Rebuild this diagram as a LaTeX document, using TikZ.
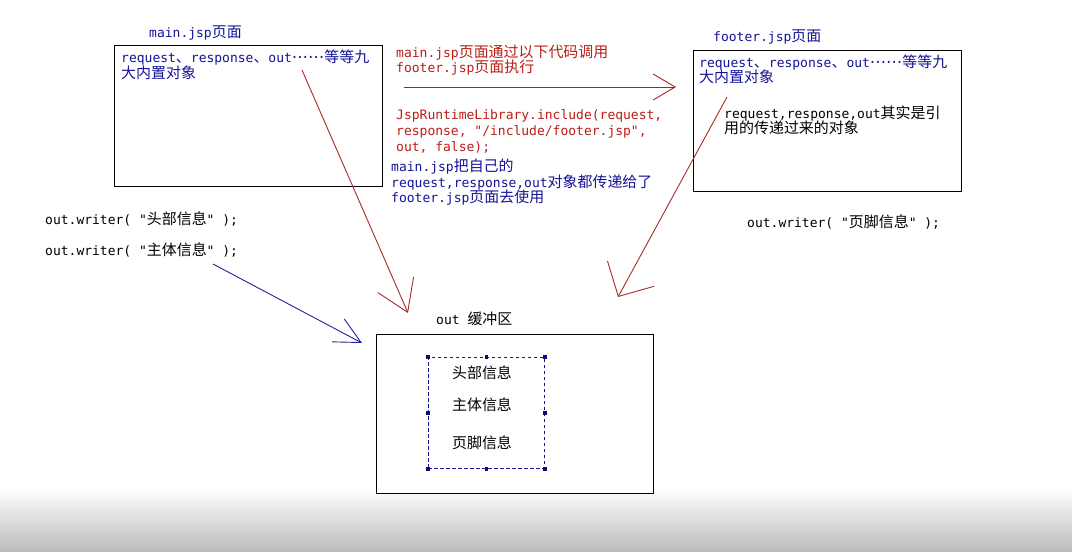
\documentclass[tikz,border=0pt]{standalone}
\usepackage{fontspec}
\newfontfamily\asc{DejaVu Sans Mono}
\newfontfamily\djv[Scale=1.25]{DejaVu Sans}
\newfontfamily\cjk[Scale=1.15]{Noto Sans CJK SC}
\newcommand\zh[1]{{\cjk #1}}
\newcommand\zhdots{{\djv ⋯⋯}}
\usetikzlibrary{arrows.meta}
\definecolor{navy}{RGB}{20,20,150}
\definecolor{codered}{RGB}{185,30,20}
\definecolor{linered}{RGB}{165,45,40}
\definecolor{lineblue}{RGB}{35,35,165}
\definecolor{bottomgray}{RGB}{186,187,184}
\begin{document}
\begin{tikzpicture}[x=1pt,y=-1pt,
  txt/.style={font=\asc\fontsize{13}{16}\selectfont, inner sep=0pt, anchor=base west, align=left},
  frame/.style={draw=black, line width=1.4pt, fill=white, anchor=north west, inner sep=0pt},
  conn/.style={line width=0.9pt},
  buf/.style={font=\fontsize{13}{16}\selectfont\cjk, inner sep=0pt},
  handle/.style={fill=navy!70!black},
]
\useasboundingbox (0,0) rectangle (1072,552);
\fill[white] (0,0) rectangle (1072,552);
\shade[top color=white, bottom color=bottomgray] (0,488) rectangle (1072,552);

% main.jsp
\node[txt, text=navy] (maintitle) at (149,37) {main.jsp\zh{页面}};
\node[frame, minimum width=268, minimum height=141] (mainbox) at (114,45) {};
\node[txt, text=navy] (maintext) at (121,78) {request\zh{、}response\zh{、}out\zhdots\zh{等等九}\\\zh{大内置对象}};

% footer.jsp
\node[txt, text=navy] (foottitle) at (713,41) {footer.jsp\zh{页面}};
\node[frame, minimum width=268, minimum height=141] (footbox) at (693,50) {};
\node[txt, text=navy] (foottext) at (699,82) {request\zh{、}response\zh{、}out\zhdots\zh{等等九}\\[-1pt]\zh{大内置对象}};
\node[txt, text=black] (footref) at (724,133) {request,response,out\zh{其实是引}\\[-1pt]\zh{用的传递过来的对象}};
\node[txt, text=black] (footwrite) at (747,227) {out.writer( "\zh{页脚信息}" );};

% middle
\node[txt, text=codered] (calltext) at (396,72) {main.jsp\zh{页面通过以下代码调用}\\[-1pt]footer.jsp\zh{页面执行}};
\node[txt, text=codered] (codetext) at (396,151) {JspRuntimeLibrary.include(request,\\response, "/include/footer.jsp",\\out, false);};
\node[txt, text=navy] (passtext) at (391,202) {main.jsp\zh{把自己的}\\request,response,out\zh{对象都传递给了}\\[-1pt]footer.jsp\zh{页面去使用}};

% left writes
\node[txt, text=black] (headwrite) at (45,224) {out.writer( "\zh{头部信息}" );};
\node[txt, text=black] (bodywrite) at (45,255) {out.writer( "\zh{主体信息}" );};

% out buffer
\node[txt, text=black] (buftitle) at (436,324) {out \zh{缓冲区}};
\node[frame, minimum width=277, minimum height=159] (bufbox) at (376,334) {};
\node[draw=navy, dash pattern=on 3.5pt off 2.5pt, line width=0.9pt, minimum width=116, minimum height=111, anchor=north west, inner sep=0pt] (dbox) at (428,357) {};
\foreach \a in {north west,north,north east,east,south east,south,south west,west}
  \fill[handle] ([xshift=-1.8pt,yshift=-1.8pt]dbox.\a) rectangle ([xshift=1.8pt,yshift=1.8pt]dbox.\a);
\node[buf] (bhead) at (482,373) {头部信息};
\node[buf] (bbody) at (482,405) {主体信息};
\node[buf] (bfoot) at (482,443) {页脚信息};

% connectors
\coordinate (callS) at (404,87);
\coordinate (callE) at (676,87);
\draw[conn, draw=codered, -{Straight Barb[length=22pt,width=26pt]}] (callS) -- (callE);

\coordinate (mainS) at (302,70);
\coordinate (mainE) at (408,313);
\draw[conn, draw=linered, -{Straight Barb[length=30pt,width=39pt]}] (mainS) -- (mainE);

\coordinate (footS) at (727,97);
\coordinate (footE) at (618,297);
\draw[conn, draw=linered, -{Straight Barb[length=26pt,width=53pt]}] (footS) -- (footE);

\coordinate (bodyS) at (213,264);
\coordinate (bodyE) at (362,343);
\draw[conn, draw=lineblue, -{Straight Barb[length=26pt,width=26pt]}] (bodyS) -- (bodyE);
\end{tikzpicture}
\end{document}
